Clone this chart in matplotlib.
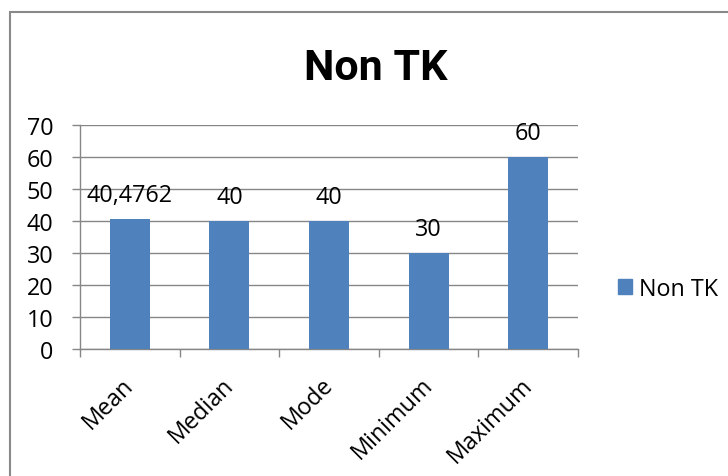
import matplotlib
matplotlib.use("Agg")
import matplotlib.pyplot as plt
from matplotlib.patches import Rectangle, Patch
from matplotlib.transforms import ScaledTranslation

categories = ["Mean", "Median", "Mode", "Minimum", "Maximum"]
values = [40.4762, 40, 40, 30, 60]
value_labels = ["40,4762", "40", "40", "30", "60"]
yticks = [0, 10, 20, 30, 40, 50, 60, 70]
series_name = "Non TK"
title = "Non TK"

BAR = "#4F81BD"
GRID = "#868686"
FONT = "Open Sans"
FS = 16.8

fig = plt.figure(figsize=(7.28, 4.77), dpi=100)
ax = fig.add_axes([80/728, 1-350/477, (578-80)/728, (350-126)/477])

x = list(range(len(categories)))
ax.bar(x, values, width=0.4, color=BAR, zorder=3)
ax.set_xlim(-0.5, len(categories)-0.5)
ax.set_ylim(0, 70)
ax.set_yticks(yticks)
ax.set_yticklabels([str(t) for t in yticks], fontfamily=FONT, fontsize=FS)
ax.yaxis.grid(True, color=GRID, lw=1, zorder=0)
ax.set_axisbelow(True)

# x ticks at category boundaries, labels at centers
ax.set_xticks([i - 0.5 for i in range(len(categories)+1)])
ax.set_xticklabels([])
ax.set_xticks(x, minor=True)
ax.set_xticklabels(categories, minor=True, rotation=45, ha="right", va="top",
                   fontfamily=FONT, fontsize=FS)
ax.tick_params(axis="x", which="minor", length=0, pad=17)
ax.tick_params(axis="x", which="major", length=6, color=GRID, width=1)
ax.tick_params(axis="y", length=6, color=GRID, width=1, pad=13)
for lab in ax.get_xticklabels(minor=True):
    lab.set_transform(lab.get_transform() + ScaledTranslation(9/100, 0, fig.dpi_scale_trans))

for s in ["top", "right"]:
    ax.spines[s].set_visible(False)
for s in ["left", "bottom"]:
    ax.spines[s].set_color(GRID)
    ax.spines[s].set_linewidth(1)

for xi, v, lab in zip(x, values, value_labels):
    ax.annotate(lab, (xi, v), xytext=(0, 13), textcoords="offset points",
                ha="center", va="baseline", fontfamily=FONT, fontsize=FS)

fig.text(376/728, 1-80/477, title, ha="center", va="baseline",
         fontfamily="Roboto", fontweight="bold", fontsize=31)

fig.legend(handles=[Patch(color=BAR, label=series_name)], loc="center left",
           bbox_to_anchor=(609/728, 1-290/477), frameon=False,
           prop={"family": FONT, "size": FS}, handlelength=0.6, handleheight=0.6,
           handletextpad=0.3, borderaxespad=0)

fig.patches.append(Rectangle((10/728, -0.1), 1.2, 1.1-13/477,
                             transform=fig.transFigure, fill=False,
                             edgecolor="#898989", lw=1.5))

fig.savefig("out.png", dpi=100)
